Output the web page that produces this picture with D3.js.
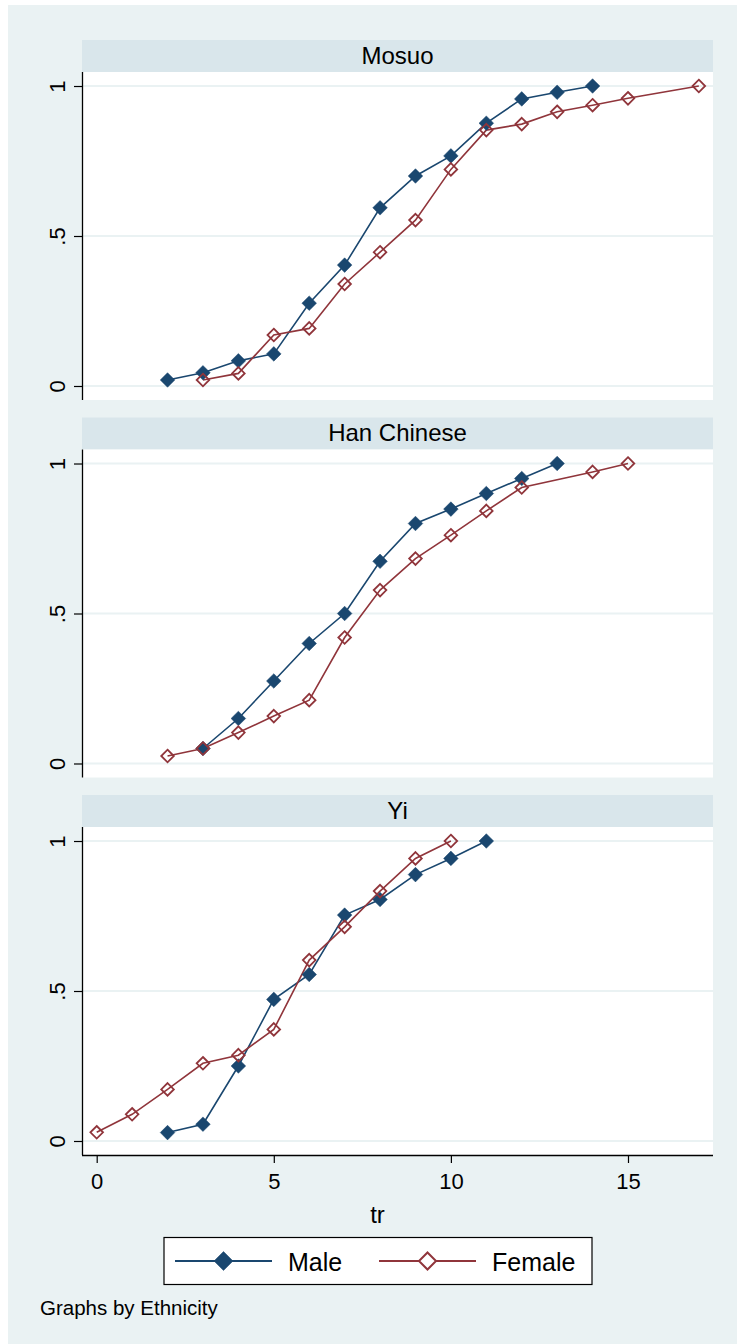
<!DOCTYPE html>
<html>
<head>
<meta charset="utf-8">
<script src="https://cdn.jsdelivr.net/npm/d3@7"></script>
<style>
  html, body { margin: 0; padding: 0; background: #ffffff; }
  svg { display: block; }
  text { font-family: "Liberation Sans", Arial, Helvetica, sans-serif; fill: #000; }
</style>
</head>
<body>
<svg id="chart" width="737" height="1344"></svg>
<script>
// ---------- data ----------
const panelNames = ["Mosuo", "Han Chinese", "Yi"];
const seriesNames = ["Male", "Female"];

const xTicks = [0, 5, 10, 15];
const xTickLabels = ["0", "5", "10", "15"];
const yTicks = [0, 0.5, 1];
const yTickLabels = ["0", ".5", "1"];
const xTitle = "tr";
const note = "Graphs by Ethnicity";

const mosuoMale = [[2,0.02],[3,0.044],[4,0.084],[5,0.107],[6,0.276],[7,0.403],[8,0.594],[9,0.70],[10,0.767],[11,0.876],[12,0.957],[13,0.979],[14,1.0]];
const mosuoFemale = [[3,0.02],[4,0.042],[5,0.17],[6,0.192],[7,0.34],[8,0.446],[9,0.553],[10,0.722],[11,0.853],[12,0.873],[13,0.914],[14,0.936],[15,0.959],[17,1.0]];
const hanMale = [[3,0.05],[4,0.15],[5,0.275],[6,0.40],[7,0.50],[8,0.674],[9,0.80],[10,0.848],[11,0.90],[12,0.95],[13,1.0]];
const hanFemale = [[2,0.025],[3,0.05],[4,0.103],[5,0.158],[6,0.211],[7,0.42],[8,0.578],[9,0.683],[10,0.761],[11,0.842],[12,0.92],[14,0.972],[15,1.0]];
const yiMale = [[2,0.028],[3,0.056],[4,0.25],[5,0.472],[6,0.555],[7,0.753],[8,0.805],[9,0.888],[10,0.942],[11,1.0]];
const yiFemale = [[0,0.029],[1,0.089],[2,0.172],[3,0.259],[4,0.286],[5,0.372],[6,0.603],[7,0.714],[8,0.833],[9,0.942],[10,1.0]];

const panelData = [
  [mosuoMale, mosuoFemale],
  [hanMale, hanFemale],
  [yiMale, yiFemale]
];

// ---------- styles ----------
const colors = ["#1a476f", "#90353b"];
const bgColor = "#eaf2f3";
const stripColor = "#d9e6eb";
const gridColor = "#eaf2f3";

const svg = d3.select("#chart");

// outer background
svg.append("rect").attr("x", 8).attr("y", 5).attr("width", 729).attr("height", 1339).attr("fill", bgColor);

const plotLeft = 82, plotRight = 713;
const headerH = 32, plotH = 328, panelStep = 377.5, firstTop = 40;

const x = d3.scaleLinear().domain([-0.415, 17.4]).range([plotLeft, plotRight]);

const diamond = (cx, cy, r) => `M${cx},${cy - r}L${cx + r},${cy}L${cx},${cy + r}L${cx - r},${cy}Z`;

panelNames.forEach((name, i) => {
  const headerTop = firstTop + i * panelStep;
  const top = headerTop + headerH;
  const bottom = top + plotH;
  const y = d3.scaleLinear().domain([-0.0467, 1.0467]).range([bottom, top]);
  const g = svg.append("g");

  // header strip
  g.append("rect").attr("x", plotLeft).attr("y", headerTop).attr("width", plotRight - plotLeft).attr("height", headerH).attr("fill", stripColor);
  g.append("text").attr("x", (plotLeft + plotRight) / 2).attr("y", headerTop + 23.5)
    .attr("text-anchor", "middle").attr("font-size", 24).text(name);

  // plot region
  g.append("rect").attr("x", plotLeft).attr("y", top).attr("width", plotRight - plotLeft).attr("height", plotH).attr("fill", "#ffffff");

  // gridlines
  g.selectAll(".grid").data(yTicks).enter().append("line")
    .attr("x1", plotLeft).attr("x2", plotRight)
    .attr("y1", d => y(d)).attr("y2", d => y(d))
    .attr("stroke", gridColor).attr("stroke-width", 2);

  // y axis
  const yAxis = d3.axisLeft(y).tickValues(yTicks).tickSize(8).tickSizeOuter(0)
    .tickFormat((d, k) => yTickLabels[k]);
  const ya = g.append("g").attr("transform", `translate(${plotLeft},0)`).call(yAxis);
  ya.select(".domain").attr("stroke", "#000").attr("stroke-width", 1.3).attr("d", `M0.5,${top}V${bottom}`);
  ya.selectAll(".tick line").attr("stroke", "#000").attr("stroke-width", 1.2);
  ya.selectAll(".tick text").attr("font-size", 22).attr("fill", "#000")
    .attr("font-family", "Liberation Sans, Arial, sans-serif")
    .attr("text-anchor", "middle").attr("dy", null).attr("x", null)
    .attr("transform", "translate(-17,0) rotate(-90)");

  // x axis on last panel
  if (i === panelNames.length - 1) {
    const xAxis = d3.axisBottom(x).tickValues(xTicks).tickSize(8).tickSizeOuter(0)
      .tickFormat((d, k) => xTickLabels[k]);
    const xa = g.append("g").attr("transform", `translate(0,${bottom})`).call(xAxis);
    xa.select(".domain").attr("stroke", "#000").attr("stroke-width", 1.3).attr("d", `M${plotLeft},0.5H${plotRight}`);
    xa.selectAll(".tick line").attr("stroke", "#000").attr("stroke-width", 1.2);
    xa.selectAll(".tick text").attr("font-size", 22).attr("fill", "#000")
      .attr("font-family", "Liberation Sans, Arial, sans-serif")
      .attr("dy", null).attr("y", 34);
    svg.append("text").attr("x", (plotLeft + plotRight) / 2 - 20).attr("y", bottom + 68)
      .attr("text-anchor", "middle").attr("font-size", 24).text(xTitle);
  }

  // series
  const line = d3.line().x(d => x(d[0])).y(d => y(d[1]));
  panelData[i].forEach((pts, s) => {
    g.append("path").attr("d", line(pts)).attr("fill", "none")
      .attr("stroke", colors[s]).attr("stroke-width", 1.6);
  });
  panelData[i].forEach((pts, s) => {
    g.selectAll(null).data(pts).enter().append("path")
      .attr("d", d => s === 0 ? diamond(x(d[0]), y(d[1]), 7.3) : diamond(x(d[0]), y(d[1]), 6.3))
      .attr("fill", s === 0 ? colors[s] : "none")
      .attr("stroke", colors[s]).attr("stroke-width", s === 0 ? 0.5 : 1.8);
  });
});

// legend
const lg = svg.append("g");
lg.append("rect").attr("x", 164).attr("y", 1237.5).attr("width", 428).attr("height", 47)
  .attr("fill", "#ffffff").attr("stroke", "#000").attr("stroke-width", 1.2);
const legendItems = [
  { x1: 175, x2: 272, tx: 288 },
  { x1: 379, x2: 476, tx: 492 }
];
seriesNames.forEach((n, s) => {
  const it = legendItems[s];
  const cy = 1261;
  const cx = (it.x1 + it.x2) / 2;
  lg.append("line").attr("x1", it.x1).attr("x2", it.x2).attr("y1", cy).attr("y2", cy)
    .attr("stroke", colors[s]).attr("stroke-width", 2);
  lg.append("path").attr("d", s === 0 ? diamond(cx, cy, 9.5) : diamond(cx, cy, 8.5))
    .attr("fill", s === 0 ? colors[s] : "#ffffff")
    .attr("stroke", colors[s]).attr("stroke-width", s === 0 ? 0.5 : 2);
  lg.append("text").attr("x", it.tx).attr("y", 1270.5).attr("font-size", 25).text(n);
});

// note
svg.append("text").attr("x", 40).attr("y", 1315).attr("font-size", 20.5).text(note);
</script>
</body>
</html>
